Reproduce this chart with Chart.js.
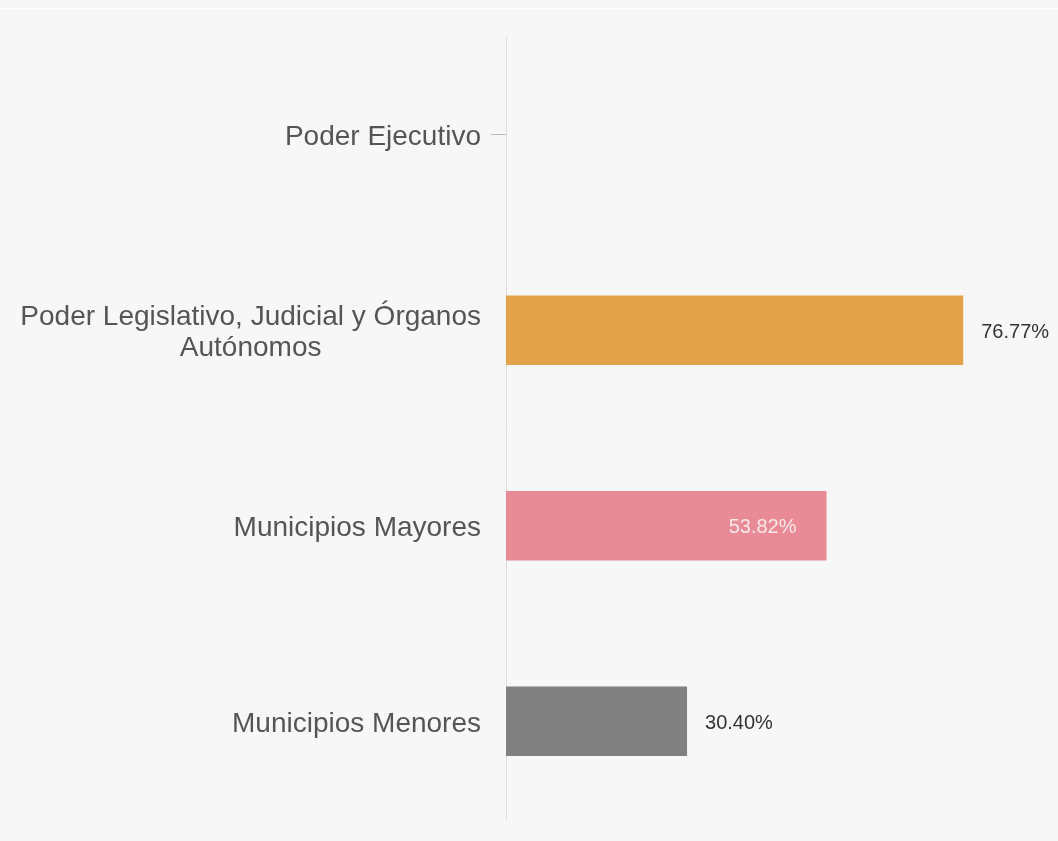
<!DOCTYPE html>
<html>
<head>
<meta charset="utf-8">
<script src="https://cdn.jsdelivr.net/npm/chart.js@4"></script>
<style>
  html, body { margin: 0; padding: 0; background: #f7f7f7; }
  #wrap { position: relative; width: 1058px; height: 841px; }
  #topline { position: absolute; top: 8px; left: 0; width: 1058px; height: 1px; background: #ffffff; }
</style>
</head>
<body>
<div id="wrap">
  <div id="topline"></div>
  <canvas id="myChart" width="1058" height="841"></canvas>
</div>
<script>
// Datos del gráfico
const categorias = [
    ['Poder Ejecutivo'],
    ['Poder Legislativo, Judicial y Órganos', 'Autónomos'],
    ['Municipios Mayores'],
    ['Municipios Menores']
];
const valores = [null, 76.77, 53.82, 30.40];
const colores = ['#e3a34b', '#e3a34b', '#e98b97', '#808080'];
const etiquetaDentro = [false, false, true, false];

// Etiquetas del eje Y dibujadas a mano (centradas entre líneas, alineadas a la derecha)
const ejeYEtiquetas = {
    id: 'ejeYEtiquetas',
    afterDraw(chart) {
        const ctx = chart.ctx;
        const y = chart.scales.y;
        ctx.save();
        ctx.font = '28px "Liberation Sans", Arial, sans-serif';
        ctx.fillStyle = '#555555';
        ctx.textBaseline = 'middle';
        ctx.textAlign = 'center';
        const right = y.right - 25;
        const lineH = 31;
        categorias.forEach((lines, i) => {
            const cy = y.getPixelForTick(i) + 3;
            const widest = Math.max(...lines.map(l => ctx.measureText(l).width));
            const cx = right - widest / 2;
            const y0 = cy - (lines.length - 1) * lineH / 2;
            lines.forEach((l, j) => ctx.fillText(l, cx, y0 + j * lineH));
        });
        ctx.restore();
    }
};

// Porcentajes sobre las barras
const etiquetasValores = {
    id: 'etiquetasValores',
    afterDatasetsDraw(chart) {
        const ctx = chart.ctx;
        const meta = chart.getDatasetMeta(0);
        ctx.save();
        ctx.font = '20px "Liberation Sans", Arial, sans-serif';
        ctx.textBaseline = 'middle';
        meta.data.forEach((bar, i) => {
            const v = valores[i];
            if (v === null || v === undefined) return;
            const txt = v.toFixed(2) + '%';
            if (etiquetaDentro[i]) {
                ctx.textAlign = 'right';
                ctx.fillStyle = 'rgba(255,255,255,0.8)';
                ctx.fillText(txt, bar.x - 30, bar.y + 2);
            } else {
                ctx.textAlign = 'left';
                ctx.fillStyle = '#333333';
                ctx.fillText(txt, bar.x + 18, bar.y + 2);
            }
        });
        ctx.restore();
    }
};

const ctx = document.getElementById('myChart').getContext('2d');
const myChart = new Chart(ctx, {
    type: 'bar',
    data: {
        labels: categorias.map(c => c.join(' ')),
        datasets: [{
            data: valores,
            backgroundColor: colores,
            borderWidth: 0,
            barPercentage: 0.355,
            categoryPercentage: 1
        }]
    },
    options: {
        indexAxis: 'y',
        responsive: false,
        animation: false,
        layout: {
            padding: { top: 37, bottom: 22, right: 16, left: 0 }
        },
        plugins: {
            legend: { display: false },
            tooltip: { enabled: false }
        },
        scales: {
            x: {
                display: false,
                min: 0,
                max: 90
            },
            y: {
                border: { display: true, color: '#dddddd', width: 1 },
                grid: {
                    offset: false,
                    drawOnChartArea: false,
                    drawTicks: true,
                    tickLength: 15,
                    tickColor: (c) => (valores[c.index] == null ? '#bbbbbb' : 'transparent')
                },
                ticks: { color: 'transparent' },
                afterFit: (scale) => { scale.width = 506; }
            }
        }
    },
    plugins: [ejeYEtiquetas, etiquetasValores]
});
</script>
</body>
</html>
